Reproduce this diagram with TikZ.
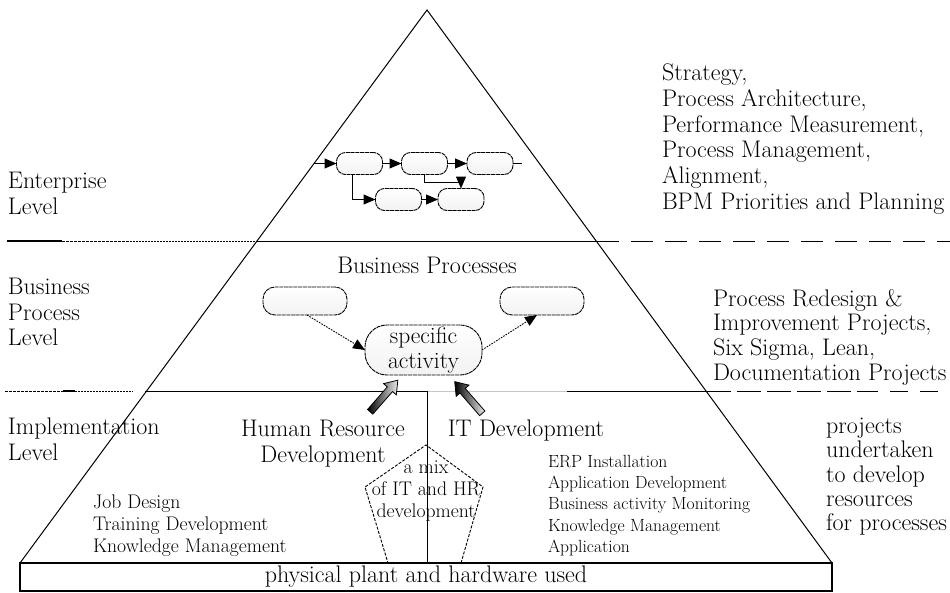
\documentclass[tikz,border=0pt]{standalone}
\usetikzlibrary{arrows.meta,shapes.geometric,calc}
\newcommand\mybig{\fontsize{24}{25.7}\selectfont}
\newcommand\mysmall{\fontsize{19.7}{21.7}\selectfont}
\newcommand\mytiny{\fontsize{17.6}{21.3}\selectfont}
\begin{document}
\begin{tikzpicture}[x=1pt,y=-1pt,
  every node/.style={inner sep=0pt, outer sep=0pt},
  ln/.style={line width=1pt},
  pbox/.style={draw, rounded corners=9pt, minimum width=46pt, minimum height=22pt,
    top color=white, bottom color=gray!10, line width=0.9pt, dash pattern=on 4pt off 0.7pt},
  mbox/.style={draw, rounded corners=12pt, minimum width=84pt, minimum height=28pt,
    top color=white, bottom color=gray!10, line width=0.9pt, dash pattern=on 4pt off 0.7pt},
  abox/.style={draw, rounded corners=22pt, minimum width=117pt, minimum height=50pt,
    top color=white, bottom color=gray!10, line width=0.9pt, dash pattern=on 4pt off 0.7pt,
    align=center, font=\fontsize{23.5}{25}\selectfont},
  tip/.style={-{Triangle[length=12pt,width=10pt]}},
  dots/.style={line width=0.9pt, dash pattern=on 1.6pt off 1.2pt},
  blockarrow/.style={draw, line width=0.8pt, left color=black, right color=gray!15},
  txt/.style={font=\mybig, align=left, anchor=north west},
  stxt/.style={font=\mysmall, align=left, anchor=north west}
]
\useasboundingbox (0,0) rectangle (950,592);

% triangle
\coordinate (apex) at (427,10);
\coordinate (bl) at (20,563);
\coordinate (br) at (832,563);
\draw[ln] (bl) -- (apex) -- (br);
\draw[line width=1.6pt] (bl) -- (br);

% level line y=241
\coordinate (e0) at (7,241);
\coordinate (e1) at (62,241);
\coordinate (e2) at (130,241);
\coordinate (e3) at (257,241);
\coordinate (e4) at (597,241);
\coordinate (e5) at (950,241);
\draw[line width=1.1pt] (e0) -- (e1);
\draw[line width=1pt, dash pattern=on 3pt off 1pt] (e1) -- (e2);
\draw[line width=1pt, dash pattern=on 1.5pt off 1.5pt] (e2) -- (e3);
\draw[ln] (e3) -- (e4);
\draw[line width=1pt, dash pattern=on 22pt off 12pt] (e4) -- (e5);

% level line y=391
\coordinate (i0) at (5,391);
\coordinate (i1) at (63,391);
\coordinate (i2) at (75,391);
\coordinate (i3) at (133,391);
\coordinate (i4) at (145,391);
\coordinate (vt) at (427,391);
\coordinate (i6) at (567,391);
\coordinate (i7) at (707,391);
\coordinate (i8) at (860,391);
\coordinate (i9) at (950,391);
\draw[line width=1pt, dash pattern=on 3pt off 1pt] (i0) -- (i1);
\draw[line width=1.2pt] (i1) -- (i2);
\draw[line width=1pt, dash pattern=on 1.5pt off 1.5pt] (i2) -- (i3);
\draw[ln] (i4) -- (vt);
\draw[line width=1pt, gray!45] (vt) -- (i6);
\draw[ln] (i6) -- (i7);
\draw[line width=1pt, dash pattern=on 24pt off 6pt] (i7) -- (i8);
\draw[line width=1pt, dash pattern=on 18pt off 12pt] (i8) -- (i9);

% vertical divider
\coordinate (vb) at (427,563);
\draw[ln] (vt) -- (vb);

% top process chain
\node[pbox] (A) at (359.5,163.5) {};
\node[pbox] (B) at (424.5,163.5) {};
\node[pbox] (C) at (490,163.5) {};
\node[pbox] (D) at (398.5,199.5) {};
\node[pbox] (E) at (461,199.5) {};
\coordinate (cin) at (314,163.5);
\coordinate (cout) at (522,163.5);
\draw[ln,tip] (cin) -- (A);
\draw[ln,tip] (A) -- (B);
\draw[ln,tip] (B) -- (C);
\draw[ln] (C) -- (cout);
\draw[ln,tip] ($(A.south)+(-7,0)$) |- (D.west);
\draw[ln,tip] (D) -- (E);
\draw[ln,tip] (B.south) -- ++(0,7.5) -| (E.north);

% business process level
\node[font=\mybig] (bp) at (427,265) {Business Processes};
\node[mbox] (L) at (305,301) {};
\node[mbox] (R) at (542,301) {};
\node[abox] (S) at (423.5,350) {specific\\activity};
\draw[dots,tip] ($(L.south)+(2,0)$) -- (S.west);
\draw[dots,tip] (S.east) -- ($(R.south)+(-5,0)$);

% block arrows
\begin{scope}[shift={(384,396)}, rotate=48.8]
  \path[blockarrow] (-21,-3.5) -- (9,-3.5) -- (9,-8.5) -- (21,0) -- (9,8.5) -- (9,3.5) -- (-21,3.5) -- cycle;
\end{scope}
\begin{scope}[shift={(468.5,397.5)}, rotate=131]
  \path[blockarrow] (-21,-3.5) -- (9,-3.5) -- (9,-8.5) -- (21,0) -- (9,8.5) -- (9,3.5) -- (-21,3.5) -- cycle;
\end{scope}

% pentagon
\coordinate (p1) at (426,445);
\coordinate (p2) at (483,487);
\coordinate (p3) at (461,563);
\coordinate (p4) at (388,563);
\coordinate (p5) at (365,487);
\draw[line width=0.9pt, dash pattern=on 3pt off 1.5pt] (p3) -- (p2) -- (p1) -- (p5) -- (p4);
\draw[line width=2.6pt] (p4) -- (p3);
\node[font=\mysmall, align=center] (mix) at (426,491) {a mix\\of IT and HR\\development};

% texts inside triangle
\node[font=\mybig, align=center, anchor=north] (hr) at (323,420) {Human Resource\\Development};
\node[font=\mybig] (it) at (526,431) {IT Development};
\node[stxt] (hrl) at (93,495) {Job Design\\Training Development\\Knowledge Management};
\node[font=\mytiny, align=left, anchor=north west] (itl) at (548,455) {ERP Installation\\Application Development\\Business activity Monitoring\\Knowledge Management\\Application};

% bottom box
\node[draw, line width=1.2pt, minimum width=812pt, minimum height=28pt, font=\mybig] (plant) at (426,577) {physical plant and hardware used};

% left labels
\node[txt] (lev1) at (8,172) {Enterprise\\Level};
\node[txt] (lev2) at (8,278) {Business\\Process\\Level};
\node[txt] (lev3) at (8,418) {Implementation\\Level};

% right labels
\node[txt] (r1) at (662,64) {Strategy,\\Process Architecture,\\Performance Measurement,\\Process Management,\\Alignment,\\BPM Priorities and Planning};
\node[txt, font=\fontsize{24}{24.7}\selectfont] (r2) at (713,289) {Process Redesign \&\\Improvement Projects,\\Six Sigma, Lean,\\Documentation Projects};
\node[txt, font=\fontsize{24}{24.3}\selectfont] (r3) at (826,418) {projects\\undertaken\\to develop\\resources\\for processes};
\end{tikzpicture}
\end{document}
